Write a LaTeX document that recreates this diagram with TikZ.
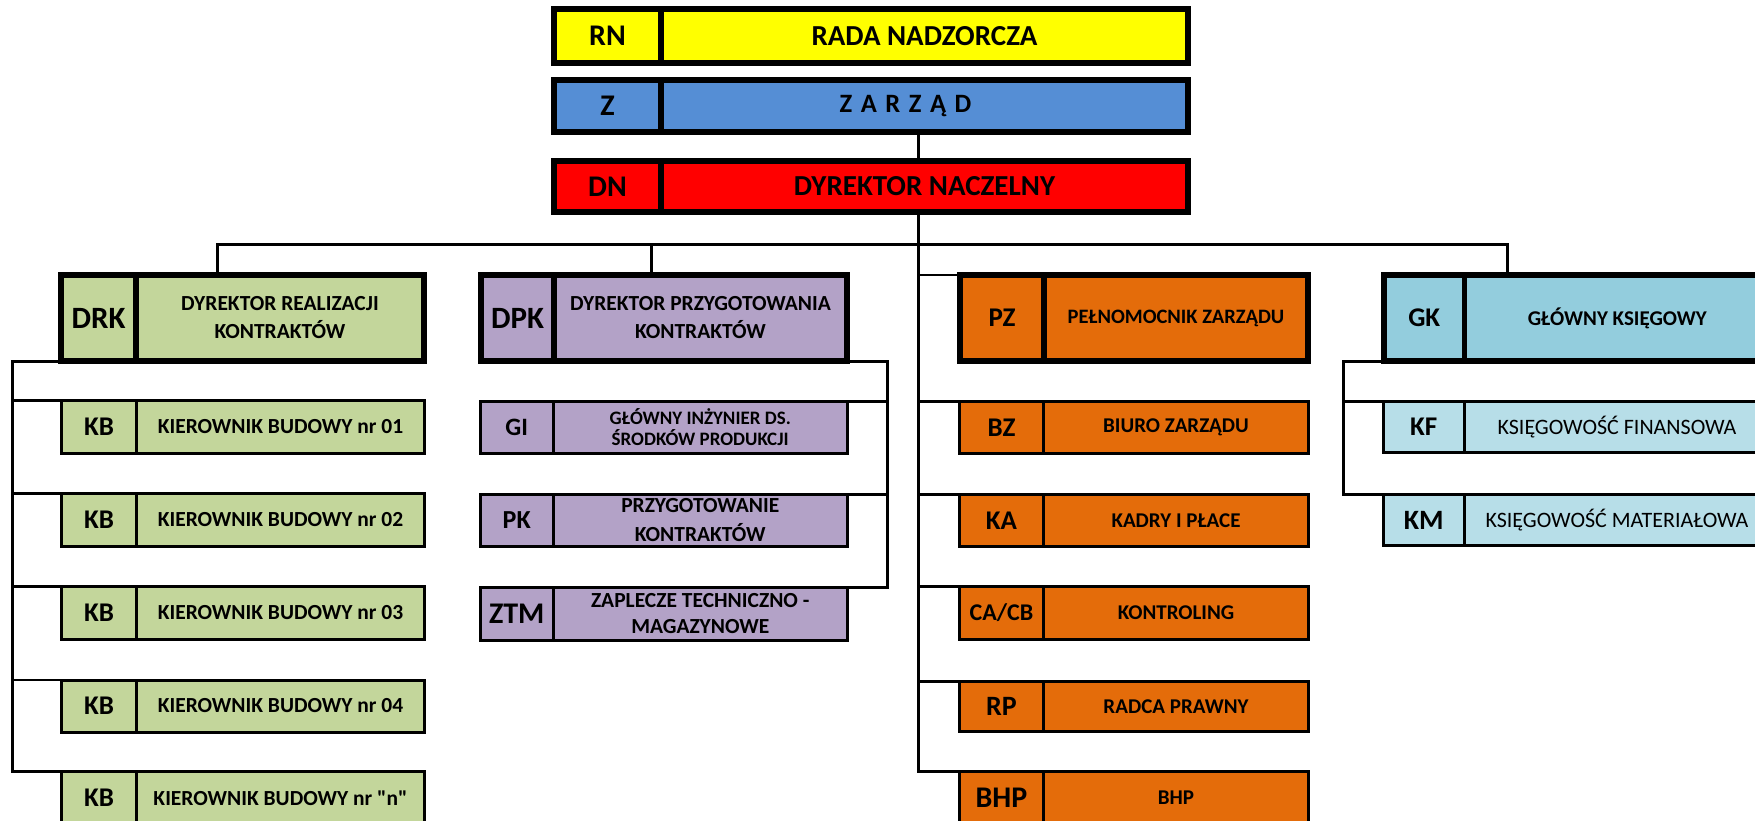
\documentclass[tikz,border=0pt]{standalone}
\usepackage{fontspec}
\setmainfont{Carlito}
\newcommand\FS[2]{\fontsize{#1}{#2}\selectfont}
\newcommand\sq{\XeTeXglyph\XeTeXcharglyph"22\relax}
\definecolor{cYellow}{HTML}{FFFF00}
\definecolor{cBlue}{HTML}{558ED5}
\definecolor{cRed}{HTML}{FF0000}
\definecolor{cGreen}{HTML}{C3D69B}
\definecolor{cPurple}{HTML}{B3A2C7}
\definecolor{cOrange}{HTML}{E46C0A}
\definecolor{cTeal}{HTML}{93CDDD}
\definecolor{cLight}{HTML}{B7DEE8}
\tikzset{
  cell/.style={draw=black, rectangle, inner sep=0pt, outer sep=0pt, anchor=north west, align=center},
  heavy/.style={line width=5.5pt},
  light/.style={line width=3pt},
  ttl/.style 2 args={font=\bfseries\FS{#1}{#2}},
  ttlr/.style 2 args={font=\mdseries\FS{#1}{#2}},
  conn/.style={draw=black, line width=3pt},
  stub/.style={draw=black, line width=2.2pt},
}
% name, x-left, x-divider, x-right, y-top, y-bottom, style, code, title
\newcommand\OrgBox[9]{%
  \node[cell,#7,minimum width={#3-#2},minimum height={#6-#5}] (#1c) at (#2,#5) {#8};
  \node[cell,#7,minimum width={#4-#3},minimum height={#6-#5}] (#1) at (#3,#5) {#9};}
\begin{document}
\begin{tikzpicture}[x=1pt,y=-1pt]
\useasboundingbox (0,0) rectangle (1755,821);
\clip (0,0) rectangle (1755,821);
\fill[white] (0,0) rectangle (1755,821);
% helper coordinates
\coordinate (cx) at (918,0);
\coordinate (dropA) at (217,244);
\coordinate (dropB) at (651,244);
\coordinate (dropC) at (1507,244);
\coordinate (lbus) at (12,0);
\coordinate (rbus) at (887,0);
\coordinate (gbus) at (1343,0);
% top
\OrgBox{rn}{554}{661}{1188}{9}{63}{heavy,fill=cYellow,ttl={29}{32}}{\bfseries\FS{30}{30}RN}{RADA NADZORCZA}
\OrgBox{z}{554}{661}{1188}{80}{132}{heavy,fill=cBlue,ttl={26.5}{28}}{\bfseries\FS{30}{30}Z}{Z\hspace{8.5pt}A\hspace{8.5pt}R\hspace{8.5pt}Z\hspace{8.5pt}Ą\hspace{8.5pt}D\hspace{38pt}}
\OrgBox{dn}{554}{661}{1188}{161}{212}{heavy,fill=cRed,ttl={29}{32}}{\bfseries\FS{30}{30}DN}{DYREKTOR NACZELNY}
% DRK column
\OrgBox{drk}{61}{136}{424}{275}{361}{heavy,fill=cGreen,ttl={21.5}{28}}{\bfseries\FS{31}{31}DRK}{DYREKTOR REALIZACJI\\KONTRAKTÓW}
\OrgBox{kba}{61.5}{136.5}{424.5}{400.5}{453.5}{light,fill=cGreen,ttl={21.5}{24}}{\bfseries\FS{27}{27}KB}{KIEROWNIK BUDOWY nr 01}
\OrgBox{kbb}{61.5}{136.5}{424.5}{493.5}{546.5}{light,fill=cGreen,ttl={21.5}{24}}{\bfseries\FS{27}{27}KB}{KIEROWNIK BUDOWY nr 02}
\OrgBox{kbc}{61.5}{136.5}{424.5}{586.5}{639.5}{light,fill=cGreen,ttl={21.5}{24}}{\bfseries\FS{27}{27}KB}{KIEROWNIK BUDOWY nr 03}
\OrgBox{kbd}{61.5}{136.5}{424.5}{680}{732}{light,fill=cGreen,ttl={21.5}{24}}{\bfseries\FS{27}{27}KB}{KIEROWNIK BUDOWY nr 04}
\OrgBox{kbe}{61.5}{136.5}{424.5}{771.5}{824.5}{light,fill=cGreen,ttl={21.5}{24}}{\bfseries\FS{27}{27}KB}{KIEROWNIK BUDOWY nr \sq n\sq}
% DPK column
\OrgBox{dpk}{481}{554}{847}{275}{361}{heavy,fill=cPurple,ttl={21.5}{28}}{\bfseries\FS{31}{31}DPK}{DYREKTOR PRZYGOTOWANIA\\KONTRAKTÓW}
\OrgBox{gi}{480.5}{553}{847.5}{401.5}{453.5}{light,fill=cPurple,ttl={19}{21}}{\bfseries\FS{25}{25}GI}{GŁÓWNY INŻYNIER DS.\\ŚRODKÓW PRODUKCJI}
\OrgBox{pk}{480.5}{553}{847.5}{494.5}{546.5}{light,fill=cPurple,ttl={21.5}{29}}{\bfseries\FS{26}{26}PK}{PRZYGOTOWANIE\\KONTRAKTÓW}
\OrgBox{ztm}{480.5}{553}{847.5}{587.5}{640.5}{light,fill=cPurple,ttl={21.5}{26}}{\bfseries\FS{30}{30}ZTM}{ZAPLECZE TECHNICZNO -\\MAGAZYNOWE}
% PZ column
\OrgBox{pz}{960}{1044}{1308}{275}{361}{heavy,fill=cOrange,ttl={20.5}{22}}{\bfseries\FS{27}{27}PZ}{PEŁNOMOCNIK ZARZĄDU}
\OrgBox{bz}{959.5}{1043.5}{1308.5}{401.5}{453.5}{light,fill=cOrange,ttl={21}{22}}{\bfseries\FS{27}{27}BZ}{BIURO ZARZĄDU}
\OrgBox{ka}{959.5}{1043.5}{1308.5}{494.5}{546.5}{light,fill=cOrange,ttl={21}{22}}{\bfseries\FS{27}{27}KA}{KADRY I PŁACE}
\OrgBox{ca}{959.5}{1043.5}{1308.5}{586.5}{639.5}{light,fill=cOrange,ttl={21}{22}}{\bfseries\FS{24}{24}CA/CB}{KONTROLING}
\OrgBox{rp}{959.5}{1043.5}{1308.5}{681.5}{731.5}{light,fill=cOrange,ttl={21}{22}}{\bfseries\FS{28}{28}RP}{RADCA PRAWNY}
\OrgBox{bhp}{959.5}{1043.5}{1308.5}{771.5}{824}{light,fill=cOrange,ttl={21}{22}}{\bfseries\FS{30}{30}BHP}{BHP}
% GK column
\OrgBox{gk}{1384}{1464.5}{1770}{275}{361}{heavy,fill=cTeal,ttl={21}{22}}{\bfseries\FS{27}{27}GK}{GŁÓWNY KSIĘGOWY}
\OrgBox{kf}{1383.5}{1464}{1770}{401.5}{452.5}{light,fill=cLight,ttlr={22}{24}}{\bfseries\FS{27}{27}KF}{KSIĘGOWOŚĆ FINANSOWA}
\OrgBox{km}{1383.5}{1464}{1770}{494.5}{545.5}{light,fill=cLight,ttlr={22}{24}}{\bfseries\FS{28}{28}KM}{KSIĘGOWOŚĆ MATERIAŁOWA}
% connectors: top chain
\draw[conn] (z.south -| cx) -- (dn.north -| cx);
\draw[conn] (dn.south -| cx) |- (bhpc.north west);
\draw[conn] (drk.north -| dropA) |- (dropC) -- (gk.north -| dropC);
\draw[conn] (dropB) -- (dpk.north -| dropB);
% DRK branch
\draw[conn] (drkc.south west) -| (lbus |- kbec.north west) -- (kbec.north west);
\draw[stub] (lbus |- kbac.north west) -- (kbac.north west);
\draw[stub] (lbus |- kbbc.north west) -- (kbbc.north west);
\draw[stub] (lbus |- kbcc.north west) -- (kbcc.north west);
\draw[stub] (lbus |- kbdc.north west) -- (kbdc.north west);
% DPK branch
\draw[conn] (dpk.south east) -| (rbus |- ztm.north east) -- (ztm.north east);
\draw[stub] (rbus |- gi.north east) -- (gi.north east);
\draw[stub] (rbus |- pk.north east) -- (pk.north east);
% PZ branch
\draw[stub] (cx |- pzc.north west) -- (pzc.north west);
\draw[stub] (cx |- bzc.north west) -- (bzc.north west);
\draw[stub] (cx |- kac.north west) -- (kac.north west);
\draw[stub] (cx |- cac.north west) -- (cac.north west);
\draw[stub] (cx |- rpc.north west) -- (rpc.north west);
% GK branch
\draw[conn] (gkc.south west) -| (gbus |- kmc.north west) -- (kmc.north west);
\draw[stub] (gbus |- kfc.north west) -- (kfc.north west);
\end{tikzpicture}
\end{document}
